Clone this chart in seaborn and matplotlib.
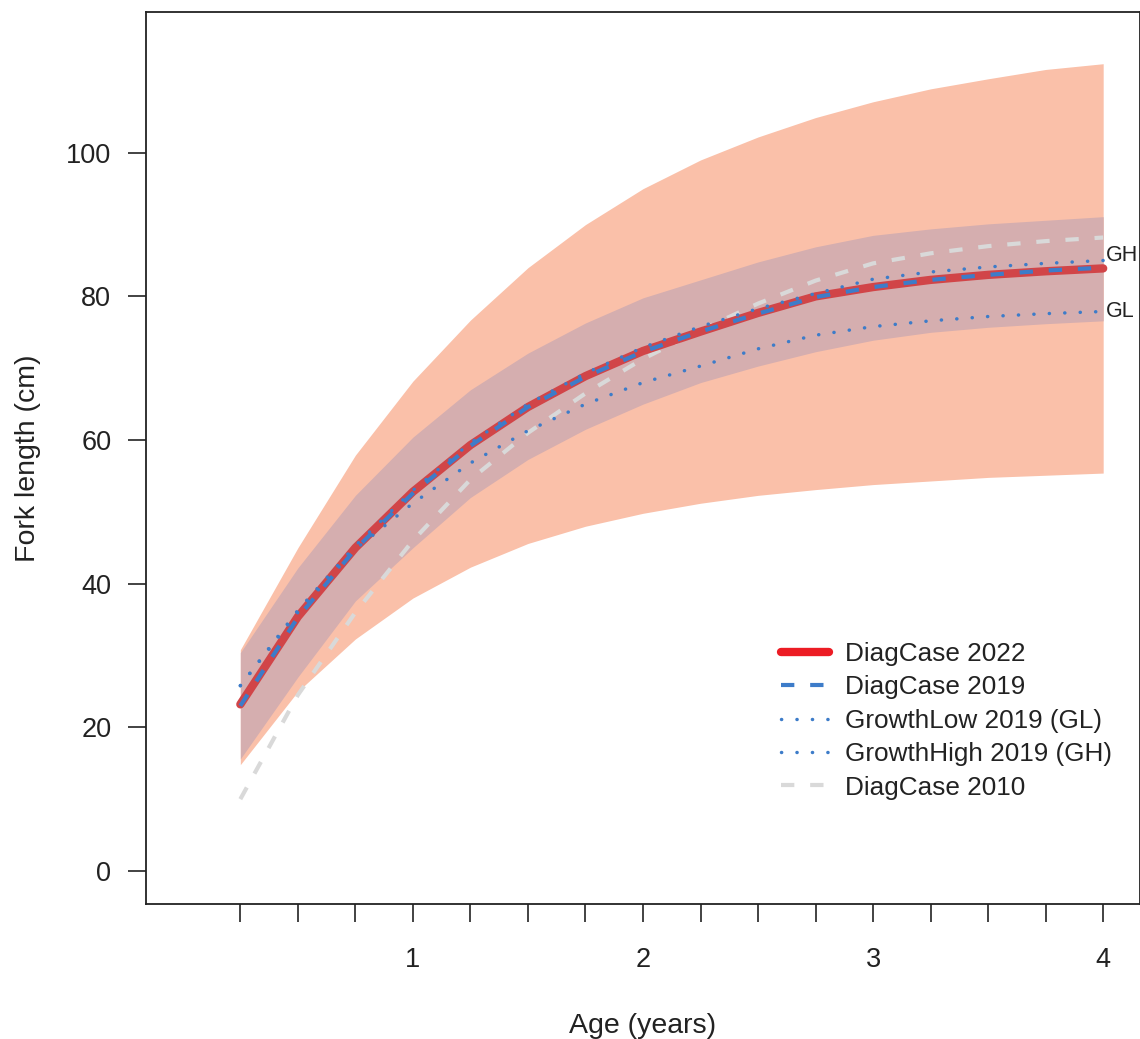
import numpy as np
import pandas as pd
import matplotlib
matplotlib.use("Agg")
import matplotlib.pyplot as plt
from matplotlib.lines import Line2D
import seaborn as sns

# Age (years) at which lengths are reported
age = [0.25, 0.5, 0.75, 1.0, 1.25, 1.5, 1.75, 2.0,
       2.25, 2.5, 2.75, 3.0, 3.25, 3.5, 3.75, 4.0]

# Fork length (cm) by model
diag_2022 = [23.2, 35.4, 45.0, 52.8, 59.3, 64.6, 68.9, 72.4,
             75.1, 77.7, 80.0, 81.3, 82.3, 83.0, 83.5, 83.9]
diag_2019 = [23.0, 35.3, 44.8, 52.6, 59.2, 64.6, 68.8, 72.3,
             75.1, 77.6, 79.9, 81.3, 82.3, 83.0, 83.6, 84.0]
growth_low_2019 = [25.8, 36.0, 44.8, 51.2, 56.8, 61.3, 65.0, 68.0,
                   70.3, 72.7, 74.6, 75.8, 76.6, 77.2, 77.6, 77.9]
growth_high_2019 = [25.8, 36.3, 45.3, 53.0, 59.6, 65.0, 69.3, 72.9,
                    75.8, 78.3, 80.4, 82.4, 83.4, 84.1, 84.6, 85.0]
diag_2010 = [10.0, 24.5, 36.0, 46.0, 54.5, 61.0, 66.5, 71.3,
             75.3, 79.0, 82.2, 84.6, 86.0, 87.0, 87.7, 88.2]

# Uncertainty bands around DiagCase 2022
outer_lo = [14.8, 25.0, 32.3, 38.0, 42.3, 45.6, 48.0, 49.8,
            51.2, 52.3, 53.1, 53.8, 54.3, 54.8, 55.1, 55.4]
outer_hi = [30.8, 45.0, 57.9, 68.2, 76.7, 84.0, 90.0, 95.0,
            99.0, 102.2, 104.9, 107.1, 108.9, 110.3, 111.6, 112.4]
inner_lo = [15.6, 27.0, 37.6, 45.0, 52.0, 57.3, 61.5, 65.0,
            68.0, 70.3, 72.3, 73.9, 75.0, 75.7, 76.2, 76.6]
inner_hi = [30.4, 42.2, 52.3, 60.4, 67.0, 72.1, 76.3, 79.8,
            82.3, 84.8, 86.9, 88.5, 89.4, 90.1, 90.6, 91.1]

x_ticks = age
x_labels = ["" if a != int(a) else str(int(a)) for a in age]
y_ticks = [0, 20, 40, 60, 80, 100]

sns.set_theme(style="white")
plt.rcParams["font.family"] = ["Liberation Sans", "DejaVu Sans"]

RED_LINE = "#D14548"
RED_KEY = "#EC1C24"
BLUE = "#3D7CC9"
GREY = "#D9D9D9"
INK = "#222222"

fig = plt.figure(figsize=(11.40, 10.39), dpi=100)
ax = fig.add_axes([146 / 1140, 135 / 1039, 994 / 1140, 892 / 1039])

ax.fill_between(age, outer_lo, outer_hi, color="#FAC0A9", lw=0, zorder=1)
ax.fill_between(age, inner_lo, inner_hi, color="#D5AEAF", lw=0, zorder=2)

df = pd.DataFrame({"age": age, "d2022": diag_2022, "d2019": diag_2019,
                   "gl": growth_low_2019, "gh": growth_high_2019,
                   "d2010": diag_2010})

DASH = (3.2, 3.8)
DOT = (0.05, 4.4)

sns.lineplot(data=df, x="age", y="d2010", ax=ax, color=GREY, lw=3.0, zorder=3)
ax.lines[-1].set_dashes(DASH)
sns.lineplot(data=df, x="age", y="d2022", ax=ax, color=RED_LINE, lw=6.0,
             zorder=4)
sns.lineplot(data=df, x="age", y="d2019", ax=ax, color=BLUE, lw=3.0, zorder=5)
ax.lines[-1].set_dashes(DASH)
for col in ["gl", "gh"]:
    sns.lineplot(data=df, x="age", y=col, ax=ax, color=BLUE, lw=2.5, zorder=6)
    ln = ax.lines[-1]
    ln.set_dashes(DOT)
    ln.set_dash_capstyle("round")

ax.text(4.01, growth_high_2019[-1] + 0.7, "GH", fontsize=15.5, color=INK,
        ha="left", va="center", clip_on=False)
ax.text(4.01, growth_low_2019[-1], "GL", fontsize=15.5, color=INK,
        ha="left", va="center", clip_on=False)

ax.set_xlim(-0.16, 4.16)
ax.set_ylim(-4.6, 119.6)
ax.set_xticks(x_ticks)
ax.set_xticklabels(x_labels)
ax.set_yticks(y_ticks)
ax.tick_params(axis="both", which="major", direction="out", length=13,
               width=1.2, color=INK, labelsize=19.5, labelcolor=INK,
               bottom=True, left=True)
ax.tick_params(axis="x", pad=18)
ax.tick_params(axis="y", pad=12)
for s in ax.spines.values():
    s.set_color(INK)
    s.set_linewidth(1.3)

ax.set_xlabel("Age (years)", fontsize=20.5, color=INK, labelpad=29)
ax.set_ylabel("Fork length (cm)", fontsize=20.5, color=INK, labelpad=18)

handles = [
    Line2D([], [], color=RED_KEY, lw=6.0, solid_capstyle="round"),
    Line2D([], [], color=BLUE, lw=3.0, dashes=DASH),
    Line2D([], [], color=BLUE, lw=2.5, dashes=DOT, dash_capstyle="round"),
    Line2D([], [], color=BLUE, lw=2.5, dashes=DOT, dash_capstyle="round"),
    Line2D([], [], color=GREY, lw=3.0, dashes=DASH),
]
labels = ["DiagCase 2022", "DiagCase 2019", "GrowthLow 2019 (GL)",
          "GrowthHigh 2019 (GH)", "DiagCase 2010"]
leg = ax.legend(handles, labels, loc="upper left",
                bbox_to_anchor=(781 / 1140, 1 - 642 / 1039),
                bbox_transform=fig.transFigure, frameon=False, fontsize=18.8,
                handlelength=1.85, handletextpad=0.62, labelspacing=0.36,
                borderpad=0, borderaxespad=0)
for t in leg.get_texts():
    t.set_color(INK)

fig.savefig("out.png", dpi=100, facecolor="white")
